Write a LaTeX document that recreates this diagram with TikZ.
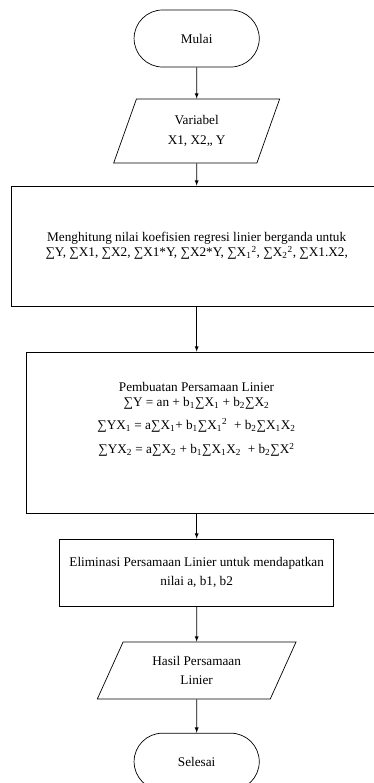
\documentclass[tikz,border=0pt]{standalone}
\usepackage{fontspec}
\setmainfont{Liberation Serif}
\usetikzlibrary{shapes.geometric,shapes.misc,arrows}

\begin{document}
\begin{tikzpicture}[line width = 0.6pt, >=latex,
                    font = \fontsize{11.3}{13}\selectfont,
                    terminal/.style = {rounded rectangle, draw, minimum width = 3.99cm, minimum height = 1.71cm},
                    io/.style = {trapezium, draw, trapezium stretches = true, align = center},
                    process/.style = {rectangle, draw}]
  \useasboundingbox (0,0) rectangle (11.19,-23.49);

  \node [terminal] (F1) at (5.9,-1.155) {Mulai};
  \node [io, trapezium left angle = 72.6, trapezium right angle = 107.4,
         minimum width = 5.01cm, minimum height = 1.92cm] (F2) at (5.9,-3.93) {Variabel\\[4.5pt] X1, X2,, Y};
  \node [process, align = center, minimum width = 11.1cm, minimum height = 3.6cm] (F3) at (5.9,-7.38)
        {Menghitung nilai koefisien regresi linier berganda untuk\\
         ∑Y, ∑X1, ∑X2, ∑X1*Y, ∑X2*Y, ∑X\textsubscript{1}\textsuperscript{2}, ∑X\textsubscript{2}\textsuperscript{2}, ∑X1.X2,};
  \node [process, minimum width = 10.86cm, minimum height = 4.83cm] (F4) at (6.21,-12.975)
        {\hspace*{-6.3mm}\begin{tabular}{@{}c@{}}
         Pembuatan Persamaan Linier\\
         ∑Y = an + b\textsubscript{1}∑X\textsubscript{1} + b\textsubscript{2}∑X\textsubscript{2}\\[6pt]
         ∑YX\textsubscript{1} = a∑X\textsubscript{1}+ b\textsubscript{1}∑X\textsubscript{1}\textsuperscript{2} \ + b\textsubscript{2}∑X\textsubscript{1}X\textsubscript{2}\\[8pt]
         ∑YX\textsubscript{2} = a∑X\textsubscript{2} + b\textsubscript{1}∑X\textsubscript{1}X\textsubscript{2} \ + b\textsubscript{2}∑X\textsuperscript{2}\\[22pt]
         \end{tabular}};
  \node [process, align = center, minimum width = 8.22cm, minimum height = 2.01cm] (F5) at (5.9,-17.175)
        {Eliminasi Persamaan Linier untuk mendapatkan\\[3pt] nilai a, b1, b2};
  \node [io, trapezium left angle = 65.5, trapezium right angle = 114.5,
         minimum width = 5.97cm, minimum height = 1.71cm] (F6) at (5.9,-20.115) {Hasil Persamaan\\[4pt] Linier};
  \node [terminal] (F7) at (5.9,-22.85) {Selesai};

  \draw [->] (F1) -- (F2);
  \draw [->] (F2) -- (F3);
  \draw [->] (F3) -- (F3 |- F4.north);
  \draw [->] (F5 |- F4.south) -- (F5);
  \draw [->] (F5) -- (F6);
  \draw [->] (F6) -- (F7);
\end{tikzpicture}
\end{document}
